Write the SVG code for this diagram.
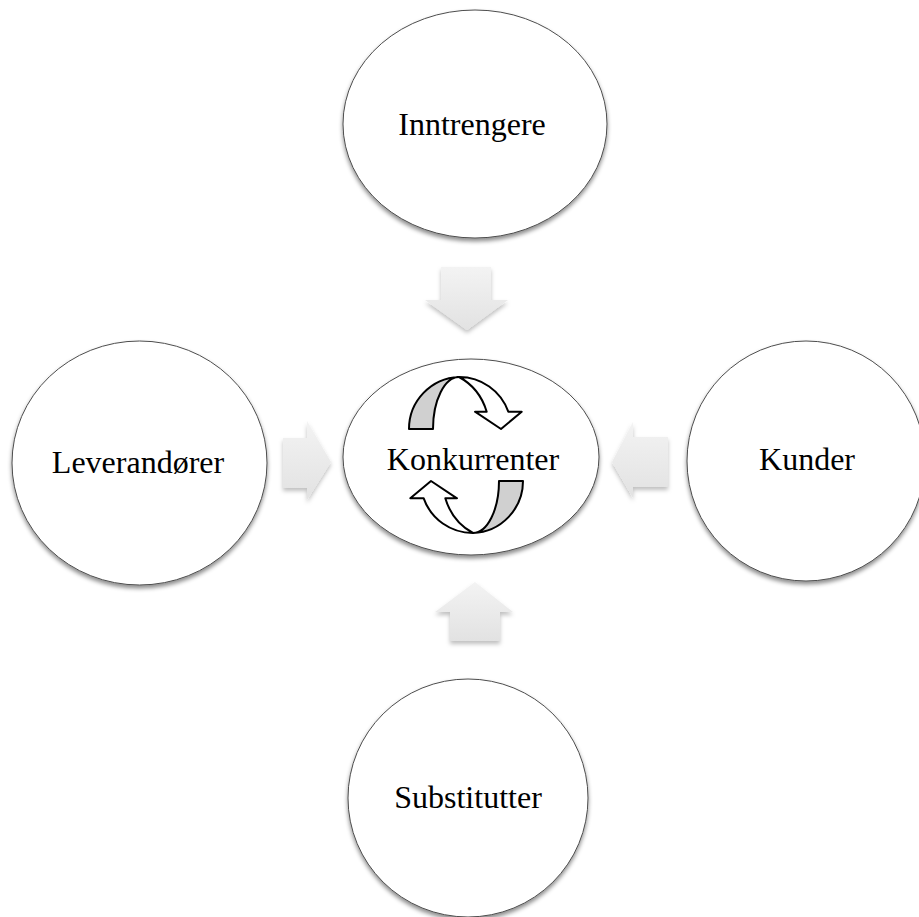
<svg xmlns="http://www.w3.org/2000/svg" width="919" height="917" viewBox="0 0 919 917">
<style>
.node{fill:#ffffff;stroke:#4d4d4d;stroke-width:1;filter:url(#shadow)}
.lbl{font-family:"Liberation Serif","Times New Roman",serif;font-size:32px;fill:#000;text-anchor:middle}
.blk{fill:url(#grad);filter:url(#ashadow)}
.cyc{stroke:#000;stroke-width:2;stroke-linejoin:round}
</style>
<defs>
<filter id="shadow" x="-10%" y="-10%" width="120%" height="125%">
<feDropShadow dx="0" dy="3" stdDeviation="2" flood-color="#000" flood-opacity="0.45"/>
</filter>
<filter id="ashadow" x="-20%" y="-20%" width="140%" height="150%">
<feDropShadow dx="0" dy="3" stdDeviation="2" flood-color="#000" flood-opacity="0.25"/>
</filter>
<linearGradient id="grad" x1="0" y1="0" x2="0" y2="1">
<stop offset="0" stop-color="#f3f3f3"/>
<stop offset="1" stop-color="#e2e2e2"/>
</linearGradient>
</defs>
<rect width="919" height="917" fill="#ffffff"/>
<g id="connectors">
<path class="blk" d="M441,267 L491,267 L491,300 L508,300 L467,330 L425,300 L441,300 Z"/>
<path class="blk" d="M283,438 L307,438 L307,421 L331,462 L307,500 L307,488 L283,488 Z"/>
<path class="blk" d="M668,437 L633,437 L633,422 L612,462 L633,498 L633,487 L668,487 Z"/>
<path class="blk" d="M450,641 L500,641 L500,612 L513,612 L475,582 L435,612 L450,612 Z"/>
</g>
<g id="inntrengere">
<ellipse class="node" cx="475" cy="124" rx="132" ry="114"/>
<text class="lbl" x="472" y="135">Inntrengere</text>
</g>
<g id="leverandorer">
<ellipse class="node" cx="139.5" cy="463" rx="127.5" ry="122"/>
<text class="lbl" x="138" y="473">Leverandører</text>
</g>
<g id="kunder">
<ellipse class="node" cx="806" cy="461" rx="119" ry="120"/>
<text class="lbl" x="807" y="470">Kunder</text>
</g>
<g id="substitutter">
<ellipse class="node" cx="468" cy="798" rx="120" ry="119"/>
<text class="lbl" x="468" y="808">Substitutter</text>
</g>
<g id="konkurrenter">
<ellipse class="node" cx="471" cy="457" rx="128" ry="98"/>
<g id="cycle-top">
<path class="cyc" fill="#d0d0d0" d="M409,429 A52,52 0 0 1 459,377 A26,52 0 0 0 433,429 Z"/>
<path class="cyc" fill="#ffffff" d="M459,377 A52,52 0 0 1 508.3,411.7 L521.7,411.7 L501,429 L475,411.7 L486.7,411.7 C482,396 472,384 459,377 Z"/>
</g>
<g id="cycle-bottom" transform="rotate(180 466 455)">
<path class="cyc" fill="#d0d0d0" d="M409,429 A52,52 0 0 1 459,377 A26,52 0 0 0 433,429 Z"/>
<path class="cyc" fill="#ffffff" d="M459,377 A52,52 0 0 1 508.3,411.7 L521.7,411.7 L501,429 L475,411.7 L486.7,411.7 C482,396 472,384 459,377 Z"/>
</g>
<text class="lbl" x="473" y="470">Konkurrenter</text>
</g>
</svg>
